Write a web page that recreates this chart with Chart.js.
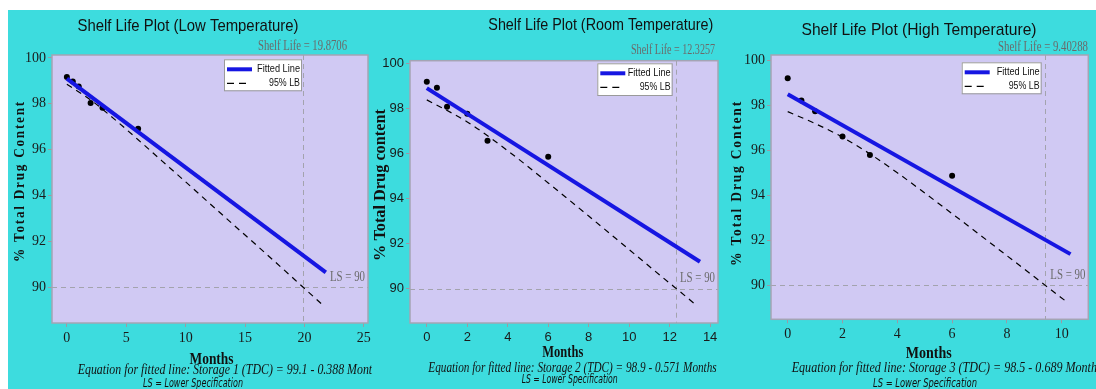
<!DOCTYPE html>
<html>
<head>
<meta charset="utf-8">
<script src="https://cdn.jsdelivr.net/npm/chart.js@4.4.1/dist/chart.umd.min.js"></script>
<style>
  body { margin: 0; background: #fff; }
  #wrap { position: relative; width: 1096px; height: 389px; overflow: hidden; }
  #bg { position: absolute; left: 8px; top: 10px; width: 1088px; height: 379px; background: #3ddcde; }
  canvas { position: absolute; top: 10px; }
</style>
</head>
<body>
<div id="wrap">
  <div id="bg"></div>
  <canvas id="cLow" width="364" height="379" style="left:8px"></canvas>
  <canvas id="cRoom" width="356" height="379" style="left:372px"></canvas>
  <canvas id="cHigh" width="368" height="379" style="left:728px"></canvas>
</div>
<script>
// sampling months and measured total drug content per storage
const months   = [0, 0.5, 1, 2, 3, 6];
const lowTemp  = [99.17, 98.97, 98.76, 98.03, 97.83, 96.91];
const roomTemp = [99.18, 98.92, 98.07, 97.76, 96.56, 95.85];
const highTemp = [99.22, 98.22, 97.75, 96.62, 95.80, 94.88];

// fitted regression lines (end points)
const fitLowX  = [0, 21.8];   const fitLowY  = [99.1, 90.64];
const fitRoomX = [0, 13.5];   const fitRoomY = [98.9, 91.19];
const fitHighX = [0, 10.32];  const fitHighY = [98.5, 91.39];

// 95% lower bound curves
const lbLowX  = [0, 2, 4, 6, 8, 10, 12, 14, 16, 18, 19.87, 21.55];
const lbLowY  = [98.85, 98.17, 97.33, 96.43, 95.51, 94.59, 93.66, 92.73, 91.81, 90.88, 90.0, 89.21];
const lbRoomX = [0, 2, 4, 6, 8, 10, 12, 12.33, 13.33];
const lbRoomY = [98.38, 97.40, 96.12, 94.69, 93.22, 91.73, 90.24, 90.0, 89.25];
const lbHighX = [0, 1, 2, 3, 4, 5, 6, 7, 8, 9, 9.40, 10.23];
const lbHighY = [97.73, 97.20, 96.59, 95.85, 95.01, 94.11, 93.19, 92.26, 91.32, 90.38, 90.0, 89.22];

const shelfLives = [19.8706, 12.3257, 9.40288];
const lowerSpec = 90;

const yTicks = [90, 92, 94, 96, 98, 100];
const xTicksLow  = [0, 5, 10, 15, 20, 25];
const xTicksRoom = [0, 2, 4, 6, 8, 10, 12, 14];
const xTicksHigh = [0, 2, 4, 6, 8, 10];

const titles = ['Shelf Life Plot (Low Temperature)', 'Shelf Life Plot (Room Temperature)', 'Shelf Life Plot (High Temperature)'];
const equations = [
  'Equation for fitted line: Storage 1 (TDC) = 99.1 - 0.388 Months',
  'Equation for fitted line: Storage 2 (TDC) = 98.9 - 0.571 Months',
  'Equation for fitted line: Storage 3 (TDC) = 98.5 - 0.689 Months'
];
const yTitles = ['% Total Drug Content', '% Total Drug content', '% Total Drug Content'];

const PLOT_BG = '#d0c9f3';
const FIT_BLUE = '#1616e2';
const GREY_TXT = '#6a6a6a';
const REF_GREY = '#a3a3ad';

const pts = (xs, ys) => xs.map((x, i) => ({ x, y: ys[i] }));

function panelPlugin(p) {
  return {
    id: 'shelfPanel',
    beforeDraw(chart) {
      const { ctx, chartArea: a } = chart;
      ctx.save();
      ctx.fillStyle = PLOT_BG;
      ctx.fillRect(a.left, a.top, a.width, a.height);
      ctx.restore();
    },
    beforeDatasetsDraw(chart) {
      // shelf life and lower spec reference lines
      const { ctx, chartArea: a, scales: { x, y } } = chart;
      const px = Math.round(x.getPixelForValue(p.shelf)) + 0.5;
      const py = Math.round(y.getPixelForValue(lowerSpec)) + 0.5;
      ctx.save();
      ctx.strokeStyle = REF_GREY;
      ctx.lineWidth = 1;
      ctx.setLineDash([5, 4]);
      ctx.beginPath();
      ctx.moveTo(px, a.top); ctx.lineTo(px, a.bottom);
      ctx.moveTo(a.left, py); ctx.lineTo(a.right, py);
      ctx.stroke();
      ctx.restore();
    },
    afterDraw(chart) {
      const { ctx, chartArea: a, scales: { y } } = chart;
      const ds = chart.data.datasets;
      ctx.save();
      // plot frame
      ctx.strokeStyle = '#a4a4b4';
      ctx.lineWidth = 1.5;
      ctx.strokeRect(a.left, a.top, a.width, a.height);

      // legend
      const L = p.legend, lx = a.left + L.x, ly = a.top + L.y;
      ctx.fillStyle = '#fff';
      ctx.fillRect(lx, ly, L.w, L.h);
      ctx.strokeStyle = '#9a9a9a';
      ctx.lineWidth = 1;
      ctx.strokeRect(lx + 0.5, ly + 0.5, L.w, L.h);
      ctx.strokeStyle = ds[0].borderColor;
      ctx.lineWidth = ds[0].borderWidth;
      ctx.beginPath(); ctx.moveTo(lx + 3, ly + 10); ctx.lineTo(lx + 28, ly + 10); ctx.stroke();
      ctx.strokeStyle = '#000';
      ctx.lineWidth = 1.2;
      ctx.setLineDash([7, 5]);
      ctx.beginPath(); ctx.moveTo(lx + 3, ly + 24); ctx.lineTo(lx + 22, ly + 24); ctx.stroke();
      ctx.setLineDash([]);
      ctx.fillStyle = '#111';
      ctx.font = "11px 'Liberation Sans'";
      ctx.textAlign = 'right';
      ctx.textBaseline = 'middle';
      ctx.fillText(ds[0].label, lx + L.w - 1, ly + 10, 43);
      ctx.fillText(ds[1].label, lx + L.w - 1, ly + 24, 31);

      // title
      ctx.textAlign = 'center';
      ctx.fillStyle = '#111';
      ctx.font = "17px 'Liberation Sans'";
      ctx.fillText(p.title, p.titlePos[0], p.titlePos[1], p.titlePos[2]);

      // shelf life value
      ctx.textAlign = 'right';
      ctx.fillStyle = GREY_TXT;
      ctx.font = "14px 'Liberation Serif'";
      ctx.fillText('Shelf Life = ' + p.shelf, p.shelfPos[0], p.shelfPos[1], p.shelfPos[2]);

      // LS label
      ctx.font = "15px 'Liberation Serif'";
      ctx.fillText('LS = ' + lowerSpec, a.right - 3, y.getPixelForValue(lowerSpec) - 10, 35);

      // x axis title and notes
      ctx.fillStyle = '#111';
      ctx.textAlign = 'center';
      ctx.font = "bold 16px 'Liberation Serif'";
      ctx.fillText('Months', p.monthsPos[0], p.monthsPos[1], p.monthsPos[2]);
      ctx.textAlign = 'left';
      ctx.font = "italic 15px 'Liberation Serif'";
      ctx.fillText(p.eq, p.eqPos[0], p.eqPos[1], p.eqPos[2]);
      ctx.font = "italic 12px 'DejaVu Sans'";
      ctx.fillText('LS = Lower Specification', p.notePos[0], p.notePos[1], p.notePos[2]);

      // y axis title
      ctx.translate(p.yTitlePos[0], p.yTitlePos[1]);
      ctx.rotate(-Math.PI / 2);
      ctx.textAlign = 'center';
      ctx.font = p.yTitleFont;
      ctx.letterSpacing = p.yTitleSpacing;
      ctx.fillText(p.yTitle, 0, 0, p.yTitlePos[2]);
      ctx.restore();
    }
  };
}

function makePanel(p) {
  const tickFont = p.tickFont;
  return new Chart(document.getElementById(p.id), {
    type: 'scatter',
    data: {
      datasets: [
        { label: 'Fitted Line', data: pts(p.fitX, p.fitY), showLine: true, borderColor: FIT_BLUE, borderWidth: 4, pointRadius: 0 },
        { label: '95% LB', data: pts(p.lbX, p.lbY), showLine: true, borderColor: '#000', borderWidth: 1.2, borderDash: [6, 5], pointRadius: 0, cubicInterpolationMode: 'monotone' },
        { label: 'Data', data: pts(months, p.values), pointRadius: 3, backgroundColor: '#000', borderWidth: 0 }
      ]
    },
    options: {
      responsive: false,
      animation: false,
      layout: { padding: { left: 0, right: p.padR, top: p.padT, bottom: 0 } },
      plugins: { legend: { display: false }, tooltip: { enabled: false } },
      scales: {
        x: {
          type: 'linear', min: p.xMin, max: p.xMax,
          afterBuildTicks: s => { s.ticks = p.xTicks.map(v => ({ value: v })); },
          afterFit: s => { s.height = p.xH; s.paddingLeft = 0; s.paddingRight = 0; },
          grid: { drawOnChartArea: false, tickLength: 4, color: '#9a9aa6' },
          border: { display: false },
          ticks: { font: tickFont, color: '#1a1a1a', padding: 3, autoSkip: false, maxRotation: 0 }
        },
        y: {
          type: 'linear', min: p.yMin, max: p.yMax,
          afterBuildTicks: s => { s.ticks = yTicks.map(v => ({ value: v })); },
          afterFit: s => { s.width = p.yW; s.paddingTop = 0; s.paddingBottom = 0; },
          grid: { drawOnChartArea: false, tickLength: 4, color: '#9a9aa6' },
          border: { display: false },
          ticks: { font: tickFont, color: '#1a1a1a', padding: 2, autoSkip: false }
        }
      }
    },
    plugins: [panelPlugin(p)]
  });
}

const serifTicks = { family: 'Liberation Serif', size: 14 };
const sansTicks = { family: "'Liberation Sans Narrow', 'Liberation Sans'", size: 13 };

makePanel({
  id: 'cLow', values: lowTemp, fitX: fitLowX, fitY: fitLowY, lbX: lbLowX, lbY: lbLowY,
  shelf: shelfLives[0], title: titles[0], eq: equations[0], yTitle: yTitles[0],
  xTicks: xTicksLow, xMin: -1.25, xMax: 25.35, yMin: 88.43, yMax: 100.13,
  yW: 44, xH: 66, padR: 1, padT: 45, tickFont: serifTicks,
  legend: { x: 172, y: 4.3, w: 77, h: 31 },
  titlePos: [180, 16, 221], shelfPos: [339, 36, 89], monthsPos: [203.5, 350, 44],
  eqPos: [69.7, 360, 305], notePos: [135, 374, 100],
  yTitlePos: [12, 171, 162], yTitleFont: "bold 15px 'Liberation Serif'", yTitleSpacing: '2px'
});

makePanel({
  id: 'cRoom', values: roomTemp, fitX: fitRoomX, fitY: fitRoomY, lbX: lbRoomX, lbY: lbRoomY,
  shelf: shelfLives[1], title: titles[1], eq: equations[1], yTitle: yTitles[1],
  xTicks: xTicksRoom, xMin: -0.83, xMax: 14.39, yMin: 88.47, yMax: 100.12,
  yW: 38, xH: 66, padR: 10, padT: 50.7, tickFont: sansTicks,
  legend: { x: 187.3, y: 2.6, w: 74.4, h: 31.7 },
  titlePos: [228.8, 15, 225], shelfPos: [343, 40, 84], monthsPos: [190.8, 343.3, 41],
  eqPos: [56.3, 358.3, 288.4], notePos: [149.7, 370, 96],
  yTitlePos: [9, 175, 152], yTitleFont: "bold 17px 'Liberation Serif'", yTitleSpacing: '0px'
});

makePanel({
  id: 'cHigh', values: highTemp, fitX: fitHighX, fitY: fitHighY, lbX: lbHighX, lbY: lbHighY,
  shelf: shelfLives[2], title: titles[2], eq: equations[2], yTitle: yTitles[2],
  xTicks: xTicksHigh, xMin: -0.61, xMax: 10.97, yMin: 88.49, yMax: 100.25,
  yW: 43, xH: 69.7, padR: 7.7, padT: 45, tickFont: serifTicks,
  legend: { x: 190.7, y: 7.3, w: 79, h: 31 },
  titlePos: [191, 20, 235], shelfPos: [360, 37, 90], monthsPos: [200.8, 344.3, 46],
  eqPos: [63.7, 358.3, 310], notePos: [145, 374, 104],
  yTitlePos: [9.5, 173, 166], yTitleFont: "bold 15px 'Liberation Serif'", yTitleSpacing: '2px'
});
</script>
</body>
</html>
